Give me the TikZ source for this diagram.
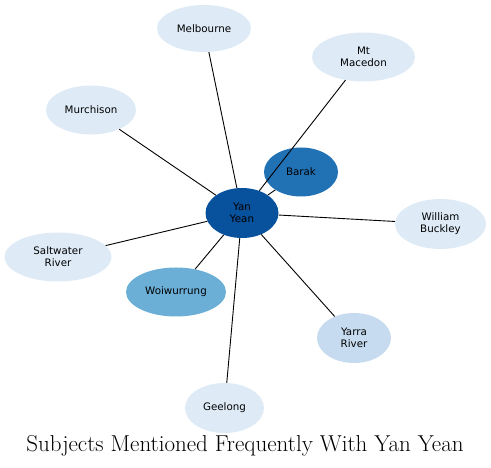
\documentclass[tikz,border=0pt]{standalone}
\usepackage{fontspec}
\newfontfamily\dejavu{DejaVu Sans}
\usetikzlibrary{shapes.geometric}
\definecolor{c1}{HTML}{08519C}
\definecolor{c2}{HTML}{2171B5}
\definecolor{c3}{HTML}{6BAED6}
\definecolor{c4}{HTML}{C6DBEF}
\definecolor{c5}{HTML}{DEEBF7}
\tikzset{
  ell/.style={ellipse, inner sep=0pt, align=center, font=\dejavu\fontsize{10.3}{12.3}\selectfont, text=black},
  edge/.style={draw=black, line width=0.9pt}
}
\begin{document}
\begin{tikzpicture}[x=1pt,y=-1pt]
\useasboundingbox (0,0) rectangle (491,468);
\node[ell, fill=c1, minimum width=73, minimum height=50] (yy) at (242,213) {Yan\\Yean};
\node[ell, fill=c2, minimum width=74, minimum height=49] (barak) at (301,172) {Barak};
\node[ell, fill=c5, minimum width=94, minimum height=47] (mel) at (204,28.5) {Melbourne};
\node[ell, fill=c5, minimum width=103, minimum height=49] (mt) at (363.5,57) {Mt\\Macedon};
\node[ell, fill=c5, minimum width=90, minimum height=49] (mur) at (91,110) {Murchison};
\node[ell, fill=c5, minimum width=91, minimum height=50] (wb) at (440.5,224) {William\\Buckley};
\node[ell, fill=c5, minimum width=107, minimum height=49] (sw) at (58,257) {Saltwater\\River};
\node[ell, fill=c3, minimum width=100, minimum height=49] (woi) at (176,292) {Woiwurrung};
\node[ell, fill=c4, minimum width=74, minimum height=50] (yr) at (354,338) {Yarra\\River};
\node[ell, fill=c5, minimum width=79, minimum height=50] (gee) at (224.5,408) {Geelong};
\draw[edge] (yy) -- (barak);
\draw[edge] (yy) -- (mel);
\draw[edge] (yy) -- (mt);
\draw[edge] (yy) -- (mur);
\draw[edge] (yy) -- (wb);
\draw[edge] (yy) -- (sw);
\draw[edge] (yy) -- (woi);
\draw[edge] (yy) -- (yr);
\draw[edge] (yy) -- (gee);
\node[font=\fontsize{23}{27}\selectfont, anchor=base] (title) at (245,452) {Subjects Mentioned Frequently With Yan Yean};
\end{tikzpicture}
\end{document}
